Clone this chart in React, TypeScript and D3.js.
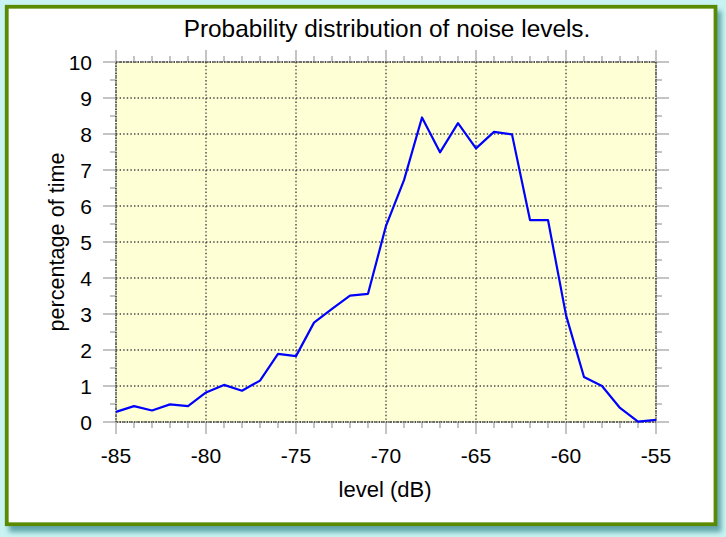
import React from "react";
import * as d3 from "d3";

const levels = [-85, -84, -83, -82, -81, -80, -79, -78, -77, -76, -75, -74, -73, -72, -71, -70, -69, -68, -67, -66, -65, -64, -63, -62, -61, -60, -59, -58, -57, -56, -55];
const percentages = [0.28, 0.44, 0.32, 0.49, 0.44, 0.82, 1.03, 0.87, 1.15, 1.89, 1.83, 2.76, 3.14, 3.51, 3.56, 5.45, 6.72, 8.46, 7.49, 8.3, 7.6, 8.06, 7.99, 5.61, 5.61, 2.97, 1.25, 1.0, 0.39, 0.01, 0.06];
const xMajorTicks = [-85, -80, -75, -70, -65, -60, -55];
const yMajorTicks = [0, 1, 2, 3, 4, 5, 6, 7, 8, 9, 10];
const title = "Probability distribution of noise levels.";
const xTitle = "level (dB)";
const yTitle = "percentage of time";

export default function App() {
  const W = 726, H = 537;
  const L = 116, R = 656, T = 62, B = 422;
  const x = d3.scaleLinear().domain([-85, -55]).range([L, R]);
  const y = d3.scaleLinear().domain([0, 10]).range([B, T]);
  const xMinor = d3.range(-85, -54, 1).filter((v) => !xMajorTicks.includes(v));
  const yMinor = d3.range(0.5, 10, 1);
  const line = d3.line<number>().x((_, i) => x(levels[i])).y((d) => y(d));
  const font = "'Liberation Sans', Arial, Helvetica, sans-serif";
  const tickColor = "#b0b0b0";
  const gridColor = "#444";
  return (
    <svg width={W} height={H} style={{ position: "absolute", left: 0, top: 0 }}>
      <defs>
        <filter id="sh" x="-5%" y="-5%" width="115%" height="115%">
          <feDropShadow dx="4" dy="6" stdDeviation="2.5" floodColor="#4f9a9e" floodOpacity="0.85" />
        </filter>
      </defs>
      <rect x={0} y={0} width={W} height={H} fill="#c9f3f3" />
      <rect x={6.75} y={6.75} width={708.75} height={517.5} fill="#ffffff" stroke="#5a8a00" strokeWidth={3.8} filter="url(#sh)" />
      <rect x={L} y={T} width={R - L} height={B - T} fill="#ffffd6" />
      {/* grid */}
      {yMajorTicks.map((v) => (
        <line key={"gy" + v} x1={L} x2={R} y1={y(v)} y2={y(v)} stroke={gridColor} strokeWidth={1.4} strokeDasharray="1.4,2.2" />
      ))}
      {xMajorTicks.map((v) => (
        <line key={"gx" + v} x1={x(v)} x2={x(v)} y1={T} y2={B} stroke={gridColor} strokeWidth={1.4} strokeDasharray="1.4,2.2" />
      ))}
      {/* ticks */}
      {xMajorTicks.map((v) => (
        <g key={"tx" + v}>
          <line x1={x(v)} x2={x(v)} y1={B} y2={B + 12} stroke={tickColor} strokeWidth={1.5} />
          <line x1={x(v)} x2={x(v)} y1={T} y2={T - 12} stroke={tickColor} strokeWidth={1.5} />
        </g>
      ))}
      {xMinor.map((v) => (
        <g key={"mx" + v}>
          <line x1={x(v)} x2={x(v)} y1={B} y2={B + 6} stroke={tickColor} strokeWidth={1.5} />
          <line x1={x(v)} x2={x(v)} y1={T} y2={T - 6} stroke={tickColor} strokeWidth={1.5} />
        </g>
      ))}
      {yMajorTicks.map((v) => (
        <g key={"ty" + v}>
          <line x1={L} x2={L - 13} y1={y(v)} y2={y(v)} stroke={tickColor} strokeWidth={1.5} />
          <line x1={R} x2={R + 13} y1={y(v)} y2={y(v)} stroke={tickColor} strokeWidth={1.5} />
        </g>
      ))}
      {yMinor.map((v) => (
        <g key={"my" + v}>
          <line x1={L} x2={L - 6} y1={y(v)} y2={y(v)} stroke={tickColor} strokeWidth={1.5} />
          <line x1={R} x2={R + 6} y1={y(v)} y2={y(v)} stroke={tickColor} strokeWidth={1.5} />
        </g>
      ))}
      {/* plot border */}
      <rect x={L} y={T} width={R - L} height={B - T} fill="none" stroke="#444" strokeWidth={1.4} strokeDasharray="1.4,1" />
      {/* data */}
      <path d={line(percentages) || ""} fill="none" stroke="#0000ff" strokeWidth={2.2} strokeLinejoin="round" />
      {/* labels */}
      {yMajorTicks.map((v) => (
        <text key={"ly" + v} x={92} y={y(v) + 7.5} textAnchor="end" fontFamily={font} fontSize={21} fill="#000">{v}</text>
      ))}
      {xMajorTicks.map((v) => (
        <text key={"lx" + v} x={x(v)} y={462.5} textAnchor="middle" fontFamily={font} fontSize={21} fill="#000">{v}</text>
      ))}
      <text x={387} y={37} textAnchor="middle" fontFamily={font} fontSize={24.4} fill="#000">{title}</text>
      <text x={385} y={497} textAnchor="middle" fontFamily={font} fontSize={22} fill="#000">{xTitle}</text>
      <text transform={`translate(64,242) rotate(-90)`} textAnchor="middle" fontFamily={font} fontSize={21.6} fill="#000">{yTitle}</text>
    </svg>
  );
}
